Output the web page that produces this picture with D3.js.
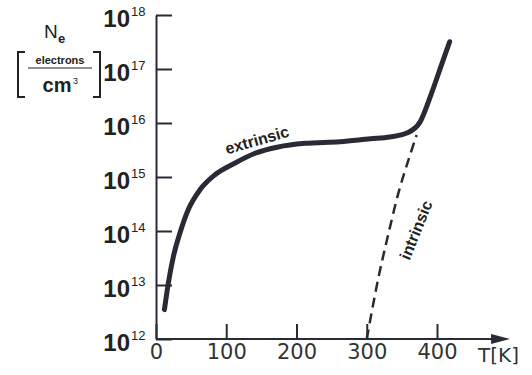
<!DOCTYPE html>
<html>
<head>
<meta charset="utf-8">
<script src="https://cdn.jsdelivr.net/npm/d3@7"></script>
<style>
  body { margin: 0; background: #fff; }
  svg { display: block; }
</style>
</head>
<body>
<div id="chart"></div>
<script>
// values
const curveT = [12, 17.5, 24.6, 34, 46, 62.6, 84, 112, 141, 174, 212, 262, 305, 333, 357, 376, 392, 407, 418];
const curveNe = [3.5e12, 1.07e13, 3.3e13, 9.1e13, 2.5e14, 5.8e14, 1.1e15, 1.8e15, 2.75e15, 3.6e15,
  4.2e15, 4.5e15, 5.1e15, 5.5e15, 6.5e15, 1.05e16, 3.5e16, 1.26e17, 3.2e17];
const intrinsicT = [300, 316, 330, 346, 360, 371];
const intrinsicNe = [1e12, 1.25e13, 8e13, 5.6e14, 2.2e15, 6e15];
const xTicks = [0, 100, 200, 300, 400];
const yTicks = [1e12, 1e13, 1e14, 1e15, 1e16, 1e17, 1e18];
const axisEndT = 504;

const width = 532, height = 375;
const ink = '#2a2a36';

const svg = d3.select('#chart').append('svg')
  .attr('width', width)
  .attr('height', height);

const x = d3.scaleLinear().domain([0, 400]).range([156, 437]);
const y = d3.scaleLog().domain([1e12, 1e18]).range([339, 15]);

// x axis
const gx = svg.append('g')
  .attr('transform', 'translate(0,' + y(1e12) + ')')
  .call(d3.axisBottom(x).tickValues(xTicks).tickSizeInner(-15).tickSizeOuter(0).tickPadding(5)
    .tickFormat(d3.format('d')));
gx.select('.domain').remove();
gx.selectAll('.tick line').attr('stroke', ink).attr('stroke-width', 2);
gx.selectAll('.tick text')
  .attr('fill', '#333')
  .style('font-family', 'DejaVu Sans')
  .style('font-size', '21px');

svg.append('line')
  .attr('x1', x(0)).attr('x2', x(axisEndT) - 10)
  .attr('y1', y(1e12)).attr('y2', y(1e12))
  .attr('stroke', ink).attr('stroke-width', 2);
svg.append('path')
  .attr('d', 'M' + x(axisEndT) + ',' + y(1e12) + 'l-19,-5v10z')
  .attr('fill', ink);

svg.append('text')
  .attr('x', 478).attr('y', 362)
  .attr('fill', '#333')
  .style('font-family', 'DejaVu Sans')
  .style('font-size', '20px')
  .text('T[K]');

// y axis
const gy = svg.append('g')
  .attr('transform', 'translate(' + x(0) + ',0)')
  .call(d3.axisLeft(y).tickValues(yTicks).tickSizeInner(-16).tickSizeOuter(0).tickFormat(''));
gy.select('.domain').attr('stroke', ink).attr('stroke-width', 2);
gy.selectAll('.tick line').attr('stroke', ink).attr('stroke-width', 2);
gy.selectAll('.tick text').remove();
gy.selectAll('.tick').each(function (d) {
  const t = d3.select(this);
  t.append('text')
    .attr('x', -26).attr('y', 11)
    .attr('text-anchor', 'end')
    .attr('fill', '#222')
    .style('font-family', 'Liberation Sans')
    .style('font-weight', 'bold')
    .style('font-size', '24px')
    .text('10');
  t.append('text')
    .attr('x', -25).attr('y', 0)
    .attr('text-anchor', 'start')
    .attr('fill', '#222')
    .style('font-family', 'Liberation Sans')
    .style('font-size', '13px')
    .text(Math.round(Math.log10(d)));
});

// y label
const lab = svg.append('g').attr('fill', '#222').style('font-family', 'Liberation Sans');
lab.append('text').attr('x', 44).attr('y', 38).style('font-size', '19px').text('N');
lab.append('text').attr('x', 58).attr('y', 43).style('font-size', '13px').style('font-weight', 'bold').text('e');
lab.append('text').attr('x', 60).attr('y', 64).attr('text-anchor', 'middle')
  .style('font-size', '11px').style('font-weight', 'bold').text('electrons');
lab.append('text').attr('x', 57).attr('y', 92).attr('text-anchor', 'middle')
  .style('font-size', '20px').style('font-weight', 'bold').text('cm');
lab.append('text').attr('x', 73).attr('y', 84).style('font-size', '9px').text('3');
lab.append('line').attr('x1', 28).attr('x2', 92).attr('y1', 68).attr('y2', 68)
  .attr('stroke', '#222').attr('stroke-width', 1.2);
lab.append('path').attr('d', 'M25,52H18V97H25M93,52H100V97H93')
  .attr('fill', 'none').attr('stroke', '#222').attr('stroke-width', 2);

// curves
const line = d3.line()
  .x(d => x(d[0]))
  .y(d => y(d[1]));

svg.append('path')
  .datum(intrinsicT.map((t, i) => [t, intrinsicNe[i]]))
  .attr('d', line.curve(d3.curveCatmullRom))
  .attr('fill', 'none')
  .attr('stroke', ink)
  .attr('stroke-width', 2.5)
  .attr('stroke-dasharray', '10,6');

svg.append('path')
  .datum(curveT.map((t, i) => [t, curveNe[i]]))
  .attr('d', line.curve(d3.curveMonotoneX))
  .attr('fill', 'none')
  .attr('stroke', ink)
  .attr('stroke-width', 5)
  .attr('stroke-linecap', 'round');

// annotations
svg.append('text')
  .attr('transform', 'translate(257,140) rotate(-16)')
  .attr('text-anchor', 'middle')
  .attr('dy', '0.35em')
  .attr('fill', '#222')
  .style('font-family', 'Liberation Sans')
  .style('font-weight', 'bold')
  .style('font-size', '16px')
  .text('extrinsic');

svg.append('text')
  .attr('transform', 'translate(416,230) rotate(-68)')
  .attr('text-anchor', 'middle')
  .attr('dy', '0.35em')
  .attr('fill', '#222')
  .style('font-family', 'Liberation Sans')
  .style('font-weight', 'bold')
  .style('font-size', '16px')
  .text('intrinsic');
</script>
</body>
</html>
